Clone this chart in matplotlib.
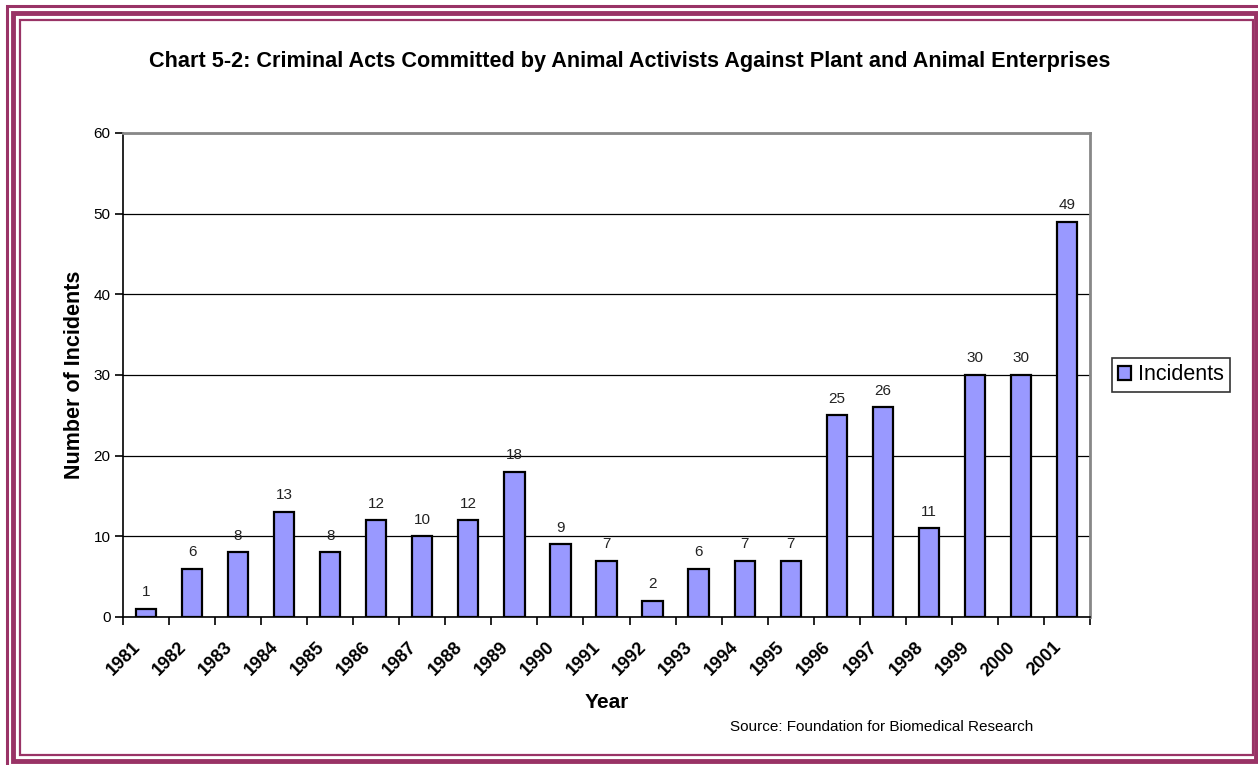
import matplotlib.pyplot as plt
from matplotlib.patches import Rectangle
import numpy as np

plt.rcParams['font.family'] = ['Liberation Sans', 'DejaVu Sans']

years = ['1981', '1982', '1983', '1984', '1985', '1986', '1987', '1988', '1989', '1990', '1991',
         '1992', '1993', '1994', '1995', '1996', '1997', '1998', '1999', '2000', '2001']
incidents = [1, 6, 8, 13, 8, 12, 10, 12, 18, 9, 7, 2, 6, 7, 7, 25, 26, 11, 30, 30, 49]

title = 'Chart 5-2: Criminal Acts Committed by Animal Activists Against Plant and Animal Enterprises'
source = 'Source: Foundation for Biomedical Research'

border = '#993366'
barcol = '#9999FF'

fig = plt.figure(figsize=(12.58, 7.65), dpi=100)
W, H = 1258, 765

# frame lines (pixel boxes -> figure fraction)
def frame(x0, y0, x1, y1, lw):
    fig.patches.append(Rectangle((x0 / W, 1 - y1 / H), (x1 - x0) / W, (y1 - y0) / H,
                                 transform=fig.transFigure, fill=False,
                                 edgecolor=border, linewidth=lw, zorder=0))

frame(7, 6, 1262, 769, 2.2)
frame(13, 13, 1256, 761, 3.5)
frame(20, 20, 1253, 755, 1.6)

ax = fig.add_axes([123 / W, 1 - 617 / H, (1090 - 123) / W, (617 - 133) / H])
x = np.arange(len(years))
ax.bar(x, incidents, width=0.44, color=barcol, edgecolor='black', linewidth=1.6,
       zorder=3, label='Incidents')
for xi, v in zip(x, incidents):
    ax.text(xi, v + 1.2, str(v), ha='center', va='bottom', fontsize=11, color='#222222')

ax.set_xlim(-0.5, len(years) - 0.5)
ax.set_ylim(0, 60)
ax.set_yticks(range(0, 61, 10))
ax.yaxis.grid(True, color='black', linewidth=0.9, zorder=0)
ax.set_axisbelow(True)

# labels sit a little left of the bar centre, as in the original
ax.set_xticks(x - 0.18)
ax.set_xticklabels(years, rotation=45, ha='right', va='center', rotation_mode='anchor',
                   fontweight='bold', fontsize=13)
ax.set_xticks(np.arange(-0.5, len(years)), minor=True)
ax.tick_params(axis='x', which='major', length=0, pad=20)
ax.tick_params(axis='x', which='minor', length=6, width=1.2, direction='out')
ax.tick_params(axis='y', length=6, width=1.2, direction='out', labelsize=11, pad=3)

for s in ['top', 'right']:
    ax.spines[s].set_color('#888888')
    ax.spines[s].set_linewidth(2)
for s in ['left', 'bottom']:
    ax.spines[s].set_color('black')
    ax.spines[s].set_linewidth(1.2)

ax.set_ylabel('Number of Incidents', fontsize=15.5, fontweight='bold', labelpad=6)
ax.set_xlabel('Year', fontsize=15, fontweight='bold', labelpad=10)

fig.text(630 / W, 1 - 62 / H, title, ha='center', va='center', fontsize=15.6, fontweight='bold')
fig.text(1033 / W, 1 - 727 / H, source, ha='right', va='center', fontsize=11)

leg = ax.legend(loc='center left', bbox_to_anchor=(1112 / W, 1 - 375 / H),
                bbox_transform=fig.transFigure, fontsize=15.5, frameon=True, fancybox=False,
                handlelength=0.6, handleheight=0.6, handletextpad=0.3, borderpad=0.3,
                borderaxespad=0)
leg.get_frame().set_edgecolor('black')
leg.get_frame().set_linewidth(1.2)

fig.savefig('out.png', dpi=100)
